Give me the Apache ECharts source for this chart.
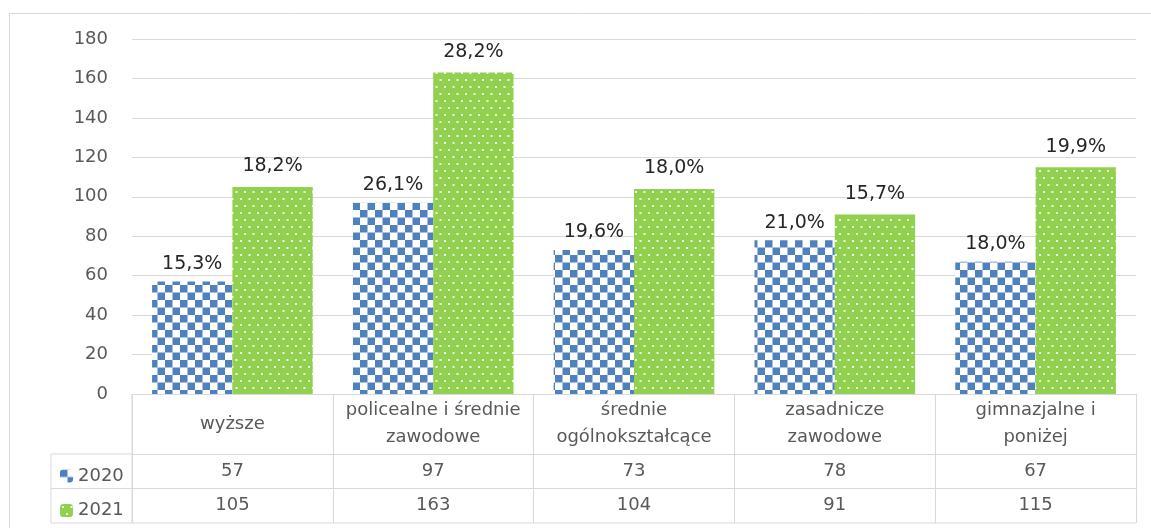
<!DOCTYPE html>
<html>
<head>
<meta charset="utf-8">
<script src="https://cdn.jsdelivr.net/npm/echarts@6/dist/echarts.min.js"></script>
<style>
  html, body { margin: 0; padding: 0; background: #fff; }
  #chart { width: 1151px; height: 528px; }
</style>
</head>
<body>
<div id="chart"></div>
<script>
'use strict';

// dane z wykresu
var categories = ['wyższe', 'policealne i średnie\nzawodowe', 'średnie\nogólnokształcące', 'zasadnicze\nzawodowe', 'gimnazjalne i\nponiżej'];
var seriesNames = ['2020', '2021'];
var values2020 = [57, 97, 73, 78, 67];
var values2021 = [105, 163, 104, 91, 115];
var pct2020 = ['15,3%', '26,1%', '19,6%', '21,0%', '18,0%'];
var pct2021 = ['18,2%', '28,2%', '18,0%', '15,7%', '19,9%'];

var FONT = 'DejaVu Sans';
var GRAY = '#595959';
var LINE = '#d9d9d9';

// siatka (px)
var G = { left: 132, right: 15, top: 39, bottom: 134 };
var W = 1151, H = 528;
var headerH = 60, rowH = 34.5;

// wzory wypełnienia jak w Excelu
function checker() {
	var c = document.createElement('canvas');
	c.width = 15; c.height = 15;
	var ctx = c.getContext('2d');
	ctx.fillStyle = '#ffffff';
	ctx.fillRect(0, 0, 15, 15);
	ctx.fillStyle = '#4f81bd';
	ctx.fillRect(0, 0, 7.5, 7.5);
	ctx.fillRect(7.5, 7.5, 7.5, 7.5);
	return { image: c, repeat: 'repeat' };
}
function dots() {
	var c = document.createElement('canvas');
	c.width = 17; c.height = 14;
	var ctx = c.getContext('2d');
	ctx.fillStyle = '#92d050';
	ctx.fillRect(0, 0, 17, 14);
	ctx.fillStyle = 'rgba(255,255,255,0.85)';
	ctx.fillRect(2, 2, 2, 2);
	ctx.fillRect(10.5, 2, 2, 2);
	ctx.fillRect(6, 9, 2, 2);
	ctx.fillRect(14.5, 9, 2, 2);
	return { image: c, repeat: 'repeat' };
}

var chart = echarts.init(document.getElementById('chart'));

function tableAxis(offset, len, formatter) {
	return {
		type: 'category',
		gridIndex: 0,
		position: 'bottom',
		offset: offset,
		data: categories,
		axisLine: { show: true, lineStyle: { color: LINE, width: 1 } },
		axisTick: { show: true, length: len, lineStyle: { color: LINE, width: 1 } },
		axisLabel: {
			interval: 0,
			margin: len / 2,
			verticalAlign: 'middle',
			lineHeight: 27,
			fontFamily: FONT,
			fontSize: 18,
			color: GRAY,
			formatter: formatter
		},
		splitLine: { show: false }
	};
}

var tableTop = H - G.bottom;
var legendLeft = 51;

function pctLabel(arr, dist) {
	return {
		show: true,
		position: 'top',
		distance: dist,
		fontFamily: FONT,
		fontSize: 19,
		color: '#262626',
		formatter: function (p) { return arr[p.dataIndex]; }
	};
}

chart.setOption({
	animation: false,
	textStyle: { fontFamily: FONT },
	grid: { left: G.left, right: G.right, top: G.top, bottom: G.bottom },
	legend: {
		orient: 'vertical',
		left: 55,
		top: tableTop + headerH + 7,
		itemWidth: 13,
		itemHeight: 13,
		itemGap: 14.5,
		textStyle: { fontFamily: FONT, fontSize: 18, lineHeight: 20, color: GRAY },
		data: seriesNames
	},
	xAxis: [
		tableAxis(0, headerH, null),
		tableAxis(headerH, rowH, function (v, i) { return String(values2020[i]); }),
		tableAxis(headerH + rowH, rowH, function (v, i) { return String(values2021[i]); })
	],
	yAxis: {
		type: 'value',
		min: 0,
		max: 180,
		interval: 20,
		axisLine: { show: false },
		axisTick: { show: false },
		axisLabel: { margin: 24, fontFamily: FONT, fontSize: 18, color: GRAY },
		splitLine: { lineStyle: { color: LINE, width: 1 } }
	},
	series: [
		{
			name: seriesNames[0],
			type: 'bar',
			xAxisIndex: 0,
			data: values2020,
			barGap: '0%',
			barCategoryGap: '20%',
			itemStyle: { color: checker() },
			label: pctLabel(pct2020, 8)
		},
		{
			name: seriesNames[1],
			type: 'bar',
			xAxisIndex: 0,
			data: values2021,
			barGap: '0%',
			barCategoryGap: '20%',
			itemStyle: { color: dots() },
			label: pctLabel(pct2021, 11)
		}
	],
	graphic: [
		// ramka wykresu
		{ type: 'rect', silent: true, shape: { x: 9.5, y: 13.5, width: W, height: H }, style: { fill: null, stroke: LINE, lineWidth: 1 } },
		// kolumna legendy tabeli
		{ type: 'line', silent: true, shape: { x1: legendLeft, y1: tableTop + headerH, x2: G.left, y2: tableTop + headerH }, style: { stroke: LINE, lineWidth: 1 } },
		{ type: 'line', silent: true, shape: { x1: legendLeft, y1: tableTop + headerH + rowH, x2: G.left, y2: tableTop + headerH + rowH }, style: { stroke: LINE, lineWidth: 1 } },
		{ type: 'line', silent: true, shape: { x1: legendLeft, y1: tableTop + headerH + 2 * rowH, x2: W - G.right, y2: tableTop + headerH + 2 * rowH }, style: { stroke: LINE, lineWidth: 1 } },
		{ type: 'line', silent: true, shape: { x1: legendLeft, y1: tableTop + headerH, x2: legendLeft, y2: tableTop + headerH + 2 * rowH }, style: { stroke: LINE, lineWidth: 1 } },
		{ type: 'line', silent: true, shape: { x1: G.left, y1: tableTop, x2: G.left, y2: tableTop + headerH + 2 * rowH }, style: { stroke: LINE, lineWidth: 1 } }
	]
});
</script>
</body>
</html>
